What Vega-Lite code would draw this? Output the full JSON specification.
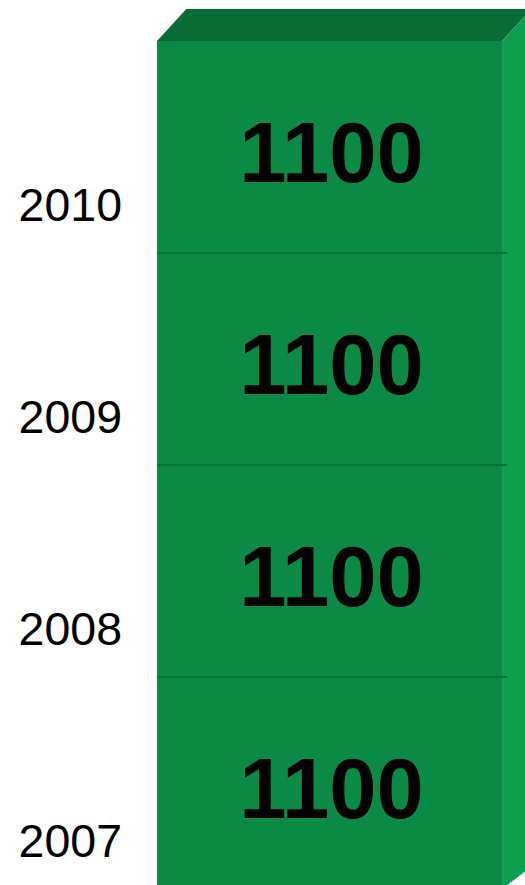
{
  "$schema": "https://vega.github.io/schema/vega-lite/v6.json",
  "width": 525,
  "height": 885,
  "autosize": {"type": "none"},
  "padding": 0,
  "config": {"view": {"stroke": null}, "font": "Liberation Sans"},
  "datasets": {
    "bars": [
      {"year": "2007", "value": 1100},
      {"year": "2008", "value": 1100},
      {"year": "2009", "value": 1100},
      {"year": "2010", "value": 1100}
    ],
    "topface": [
      {"px": 0, "py": 4400, "py2": 4400},
      {"px": 0.085, "py": 4566, "py2": 4400},
      {"px": 1, "py": 4566, "py2": 4400},
      {"px": 1.085, "py": 4566, "py2": 4566}
    ],
    "sideface": [
      {"px": 1, "py": 4400, "py2": 0},
      {"px": 1.085, "py": 4566, "py2": 115}
    ]
  },
  "layer": [
    {
      "data": {"name": "topface"},
      "mark": {"type": "area", "orient": "vertical", "color": "#0A6B37", "clip": true},
      "encoding": {
        "x": {"field": "px", "type": "quantitative", "scale": {"domain": [-0.45507, 1.06667], "nice": false, "zero": false}, "axis": null},
        "y": {"field": "py", "type": "quantitative", "scale": {"domain": [20.75, 4612.7], "nice": false, "zero": false}, "axis": null},
        "y2": {"field": "py2"}
      }
    },
    {
      "data": {"name": "sideface"},
      "mark": {"type": "area", "orient": "vertical", "color": "#0E9F4E", "clip": true},
      "encoding": {
        "x": {"field": "px", "type": "quantitative", "scale": {"domain": [-0.45507, 1.06667], "nice": false, "zero": false}, "axis": null},
        "y": {"field": "py", "type": "quantitative", "scale": {"domain": [20.75, 4612.7], "nice": false, "zero": false}, "axis": null},
        "y2": {"field": "py2"}
      }
    },
    {
      "data": {"name": "bars"},
      "transform": [
        {"stack": "value", "groupby": [], "sort": [{"field": "year", "order": "ascending"}], "as": ["v0", "v1"]}
      ],
      "layer": [
        {
          "mark": {"type": "rect", "color": "#0B8A45", "clip": true},
          "encoding": {
            "x": {"datum": 0, "type": "quantitative", "scale": {"domain": [-0.45507, 1.06667], "nice": false, "zero": false}, "axis": null},
            "x2": {"datum": 1},
            "y": {"field": "v0", "type": "quantitative", "scale": {"domain": [20.75, 4612.7], "nice": false, "zero": false}, "axis": null},
            "y2": {"field": "v1"}
          }
        },
        {
          "transform": [{"filter": "datum.year != '2010'"}],
          "mark": {"type": "rule", "color": "#077236", "strokeWidth": 2, "clip": true},
          "encoding": {
            "x": {"datum": 0, "type": "quantitative", "scale": {"domain": [-0.45507, 1.06667], "nice": false, "zero": false}, "axis": null},
            "x2": {"datum": 1.015},
            "y": {"field": "v1", "type": "quantitative", "scale": {"domain": [20.75, 4612.7], "nice": false, "zero": false}, "axis": null}
          }
        },
        {
          "mark": {"type": "text", "fontSize": 85, "fontWeight": "bold", "color": "#000000", "baseline": "alphabetic", "align": "center", "dy": -71, "dx": 2},
          "encoding": {
            "x": {"datum": 0.5, "type": "quantitative", "scale": {"domain": [-0.45507, 1.06667], "nice": false, "zero": false}, "axis": null},
            "y": {"field": "v0", "type": "quantitative", "scale": {"domain": [20.75, 4612.7], "nice": false, "zero": false}, "axis": null},
            "text": {"field": "value", "type": "quantitative", "format": "d"}
          }
        },
        {
          "mark": {"type": "text", "fontSize": 46.5, "color": "#000000", "baseline": "alphabetic", "align": "right", "dy": -32},
          "encoding": {
            "x": {"datum": -0.1014, "type": "quantitative", "scale": {"domain": [-0.45507, 1.06667], "nice": false, "zero": false}, "axis": null},
            "y": {"field": "v0", "type": "quantitative", "scale": {"domain": [20.75, 4612.7], "nice": false, "zero": false}, "axis": null},
            "text": {"field": "year", "type": "nominal"}
          }
        }
      ]
    }
  ]
}
